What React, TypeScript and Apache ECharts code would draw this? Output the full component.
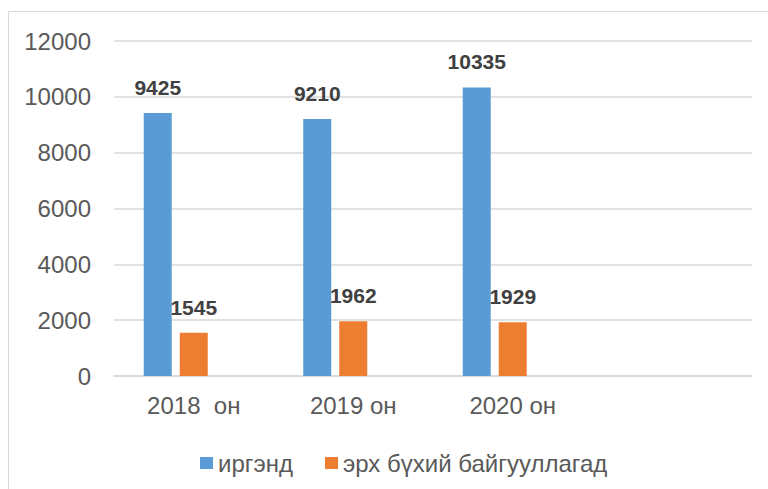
import React, { useEffect, useRef } from "react";
import * as echarts from "echarts";

const categories = ["2018  он", "2019 он", "2020 он", ""];
const citizens = [9425, 9210, 10335, null];
const organizations = [1545, 1962, 1929, null];
const emptySeries = [null, null, null, null];
const seriesNames = ["иргэнд", "эрх бүхий байгууллагад"];

export default function App() {
  const ref = useRef<HTMLDivElement>(null);
  useEffect(() => {
    document.body.style.margin = "0";
    const chart = echarts.init(ref.current!, null, { renderer: "svg" });
    const labelStyle = {
      show: true,
      position: "top",
      distance: 15,
      fontFamily: "Liberation Sans",
      fontWeight: "bold",
      fontSize: 21,
      color: "#404040",
    };
    chart.setOption({
      animation: false,
      backgroundColor: "#ffffff",
      textStyle: { fontFamily: "Liberation Sans" },
      graphic: [
        {
          type: "rect",
          shape: { x: 8.5, y: 11.5, width: 800, height: 520 },
          style: { fill: "none", stroke: "#d9d9d9", lineWidth: 1 },
          silent: true,
        },
      ],
      grid: { left: 114, right: 16, top: 41, bottom: 113 },
      legend: {
        data: seriesNames,
        left: 195,
        top: 446,
        itemWidth: 13,
        itemHeight: 12,
        itemGap: 32,
        icon: "rect",
        textStyle: {
          fontFamily: "Liberation Sans",
          fontSize: 24,
          lineHeight: 24,
          color: "#595959",
        },
      },
      xAxis: {
        type: "category",
        data: categories,
        axisTick: { show: false },
        axisLine: { lineStyle: { color: "#d9d9d9", width: 1.5 } },
        axisLabel: {
          fontFamily: "Liberation Sans",
          fontSize: 24,
          color: "#595959",
          margin: 17,
        },
      },
      yAxis: {
        type: "value",
        min: 0,
        max: 12000,
        interval: 2000,
        axisLine: { show: false },
        axisTick: { show: false },
        splitLine: { lineStyle: { color: "#d9d9d9", width: 1.5 } },
        axisLabel: {
          fontFamily: "Liberation Sans",
          fontSize: 24,
          color: "#595959",
          margin: 23,
          formatter: (v: number) => String(v),
        },
      },
      series: [
        {
          name: seriesNames[0],
          type: "bar",
          data: citizens,
          barWidth: 28,
          barGap: "28.6%",
          itemStyle: { color: "#5B9BD5" },
          label: labelStyle,
        },
        {
          name: seriesNames[1],
          type: "bar",
          data: organizations,
          barWidth: 28,
          barGap: "28.6%",
          itemStyle: { color: "#ED7D31" },
          label: labelStyle,
        },
        {
          name: "_empty",
          type: "bar",
          data: emptySeries,
          barWidth: 28,
          barGap: "28.6%",
          itemStyle: { color: "#A5A5A5" },
        },
      ],
    });
    return () => chart.dispose();
  }, []);
  return <div ref={ref} style={{ width: 768, height: 489 }} />;
}
